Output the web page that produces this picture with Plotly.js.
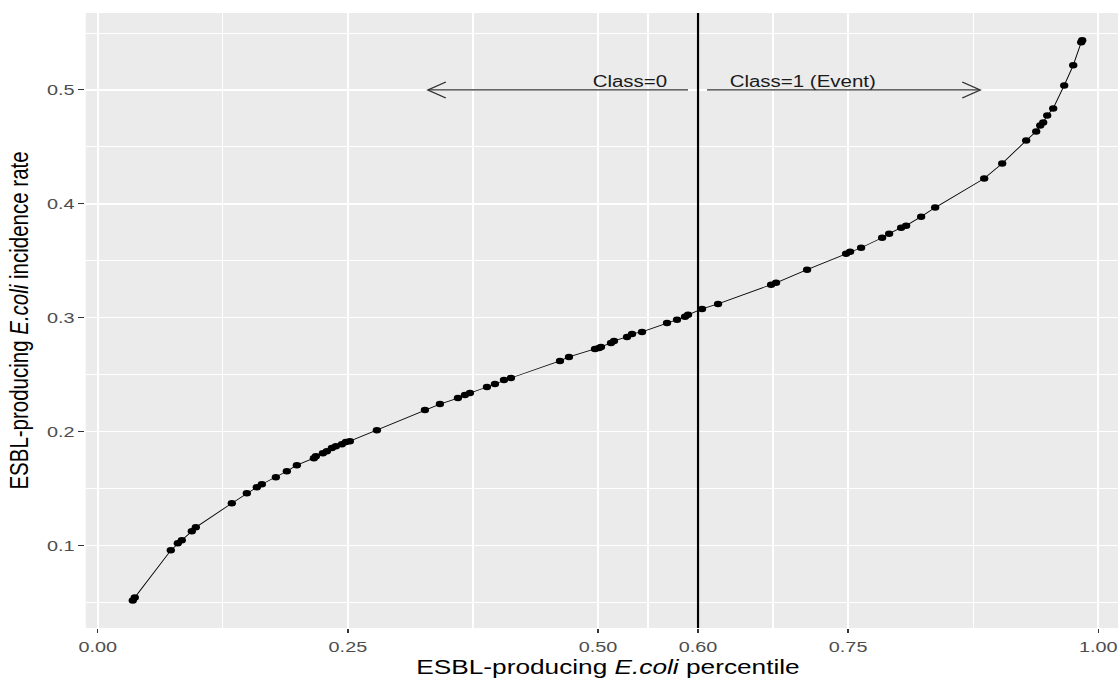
<!DOCTYPE html>
<html>
<head>
<meta charset="utf-8">
<script src="https://cdn.plot.ly/plotly-3.0.1.min.js"></script>
<style>
  html, body { margin: 0; padding: 0; width: 1118px; height: 678px; overflow: hidden; background: #fff; }
  #plot { width: 883px; height: 678px; transform: scaleX(1.28); transform-origin: 0 0; }
</style>
</head>
<body>
<div id="plot"></div>
<script>
// Percentile (x) and incidence rate (y)
const percentile = [0.035,0.037,0.073,0.080,0.084,0.094,0.098,0.134,0.149,0.159,0.164,0.178,0.189,0.199,
  0.216,0.218,0.225,0.229,0.234,0.238,0.244,0.248,0.252,0.279,0.327,0.342,0.360,0.367,0.372,0.389,0.397,
  0.406,0.413,0.462,0.471,0.497,0.501,0.503,0.513,0.516,0.529,0.534,0.544,0.569,0.579,0.587,0.590,0.604,
  0.620,0.673,0.678,0.709,0.748,0.752,0.763,0.784,0.791,0.803,0.808,0.823,0.837,0.886,0.904,0.928,0.938,
  0.942,0.945,0.949,0.955,0.966,0.975,0.983,0.984];
const incidence = [0.0516,0.0542,0.0956,0.1018,0.1044,0.1123,0.1158,0.1370,0.1458,0.1511,0.1537,0.1599,
  0.1651,0.1704,0.1766,0.1783,0.1810,0.1827,0.1854,0.1871,0.1889,0.1907,0.1915,0.2012,0.2188,0.2241,0.2294,
  0.2320,0.2338,0.2391,0.2417,0.2452,0.2470,0.2620,0.2655,0.2725,0.2734,0.2743,0.2778,0.2796,0.2831,0.2857,
  0.2875,0.2954,0.2981,0.3007,0.3025,0.3077,0.3121,0.3289,0.3306,0.3421,0.3562,0.3579,0.3614,0.3702,0.3738,
  0.3790,0.3808,0.3887,0.3967,0.4222,0.4354,0.4556,0.4636,0.4688,0.4715,0.4776,0.4838,0.5040,0.5217,0.5419,0.5437];

const xTicks = [0.00, 0.25, 0.50, 0.60, 0.75, 1.00];
const xTickLabels = ['0.00', '0.25', '0.50', '0.60', '0.75', '1.00'];
const xMinor = [0.125, 0.375, 0.55, 0.675, 0.875];
const yTicks = [0.1, 0.2, 0.3, 0.4, 0.5];
const yTickLabels = ['0.1', '0.2', '0.3', '0.4', '0.5'];
const yMinor = [0.05, 0.15, 0.25, 0.35, 0.45, 0.55];

const threshold = 0.60;
const classLabels = ['Class=0', 'Class=1 (Event)'];
const classLabelX = [0.532, 0.704];
const arrowFrom = [0.590, 0.609];
const arrowTo = [0.330, 0.882];
const arrowY = 0.5;

const font = '"Liberation Sans", Arial, Helvetica, sans-serif';

const trace = {
  x: percentile, y: incidence, type: 'scatter', mode: 'lines+markers',
  line: {color: '#000', width: 0.8},
  marker: {color: '#000', size: 6.5},
  hoverinfo: 'skip', showlegend: false
};

const shapes = [{
  type: 'line', xref: 'x', yref: 'paper', x0: threshold, x1: threshold, y0: 0, y1: 1,
  line: {color: '#000', width: 1.7}, layer: 'above'
}];
arrowFrom.forEach((x0, i) => {
  shapes.push({type: 'line', xref: 'x', yref: 'y', x0: x0, x1: arrowTo[i], y0: arrowY, y1: arrowY,
    line: {color: '#333', width: 1.3}});
  const dir = arrowTo[i] < x0 ? 1 : -1;
  shapes.push({type: 'path', xref: 'x', yref: 'y', xsizemode: 'pixel', ysizemode: 'pixel',
    xanchor: arrowTo[i], yanchor: arrowY,
    path: `M ${14*dir} 8 L 0 0 L ${14*dir} -8`,
    line: {color: '#333', width: 1.3}});
});

const annotations = classLabels.map((t, i) => ({
  text: t, x: classLabelX[i], y: arrowY, xref: 'x', yref: 'y', showarrow: false,
  yanchor: 'bottom', yshift: -2, font: {family: font, size: 16, color: '#1a1a1a'}
}));

const layout = {
  width: 883, height: 678,
  margin: {l: 67, r: 0, t: 13, b: 50},
  paper_bgcolor: '#fff', plot_bgcolor: '#EBEBEB',
  font: {family: font},
  xaxis: {
    range: [-0.012, 1.032], tickmode: 'array', tickvals: xTicks, ticktext: xTickLabels,
    ticks: 'outside', ticklen: 4, tickwidth: 1, tickcolor: '#333',
    tickfont: {family: font, size: 15.5, color: '#4D4D4D'},
    showgrid: true, gridcolor: '#fff', gridwidth: 1.5, zeroline: false, showline: false,
    minor: {tickmode: 'array', tickvals: xMinor, showgrid: true, gridcolor: '#fff', gridwidth: 1, ticks: ''},
    title: {text: 'ESBL-producing <i>E.coli</i> percentile', font: {family: font, size: 20.5, color: '#000'}, standoff: 6}
  },
  yaxis: {
    range: [0.0274, 0.5676], tickmode: 'array', tickvals: yTicks, ticktext: yTickLabels,
    ticks: 'outside', ticklen: 4.7, tickwidth: 1, tickcolor: '#333',
    tickfont: {family: font, size: 15.5, color: '#4D4D4D'},
    showgrid: true, gridcolor: '#fff', gridwidth: 1.5, zeroline: false, showline: false,
    minor: {tickmode: 'array', tickvals: yMinor, showgrid: true, gridcolor: '#fff', gridwidth: 1, ticks: ''},
    title: {text: 'ESBL-producing <i>E.coli</i> incidence rate', font: {family: font, size: 20.5, color: '#000'}, standoff: 8}
  },
  shapes: shapes,
  annotations: annotations
};

Plotly.newPlot('plot', [trace], layout, {displayModeBar: false, staticPlot: true});
</script>
</body>
</html>
